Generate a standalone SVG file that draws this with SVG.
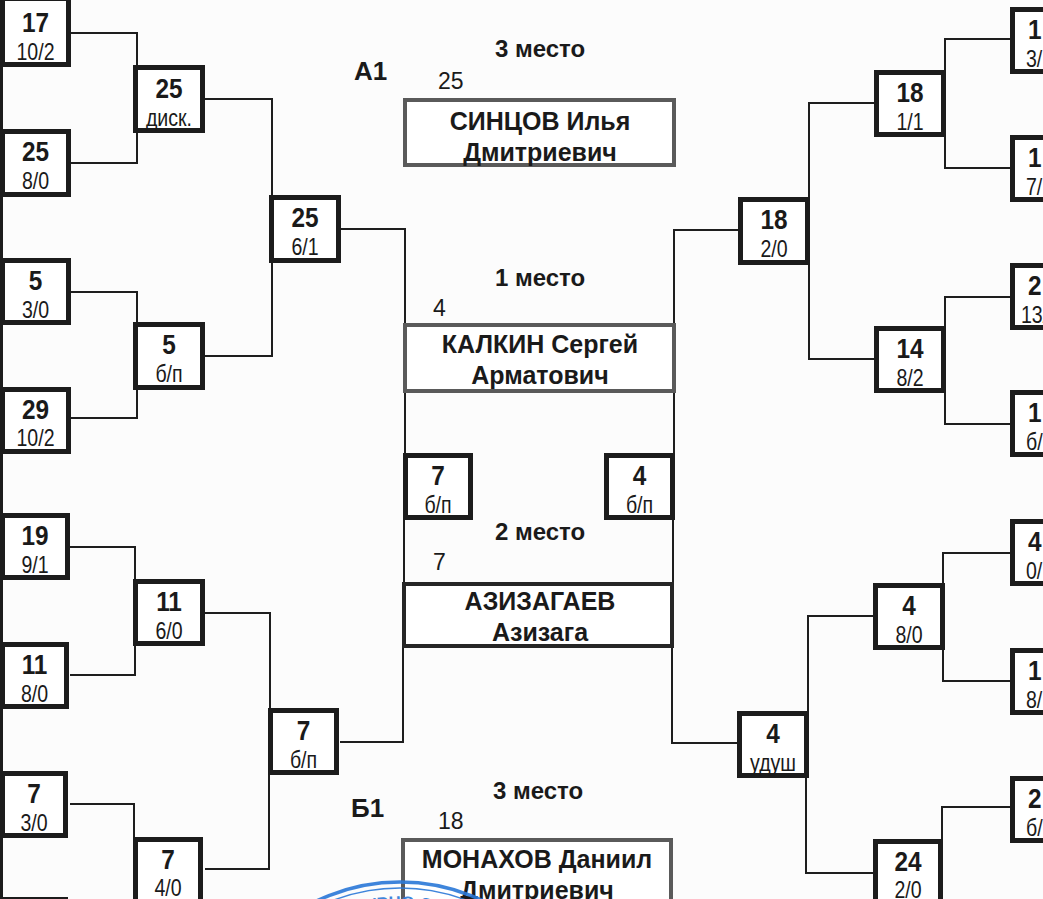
<svg xmlns="http://www.w3.org/2000/svg" width="1043" height="899" viewBox="0 0 1043 899">
<style>
.bg{fill:#fcfcfc}
.box{fill:#ffffff;stroke:#1c1c1c;stroke-width:5}
.nbox{fill:#ffffff;stroke:#5a5a5a;stroke-width:4}
.nbox2{fill:#ffffff;stroke:#262626;stroke-width:4}
.num{font-family:"Liberation Sans",Arial,sans-serif;font-weight:bold;font-size:28px;fill:#1a1a1a;text-anchor:middle}
.sub{font-family:"Liberation Sans",Arial,sans-serif;font-size:23px;fill:#1a1a1a;text-anchor:middle}
.numL{font-family:"Liberation Sans",Arial,sans-serif;font-weight:bold;font-size:28px;fill:#1a1a1a}
.subL{font-family:"Liberation Sans",Arial,sans-serif;font-size:23px;fill:#1a1a1a}
.name{font-family:"Liberation Sans",Arial,sans-serif;font-weight:bold;font-size:25px;fill:#1a1a1a;text-anchor:middle}
.place{font-family:"Liberation Sans",Arial,sans-serif;font-weight:bold;font-size:24px;fill:#1a1a1a;text-anchor:middle}
.grp{font-family:"Liberation Sans",Arial,sans-serif;font-weight:bold;font-size:26px;fill:#1a1a1a}
.seed{font-family:"Liberation Sans",Arial,sans-serif;font-size:23px;fill:#1a1a1a}
.conn{fill:none;stroke:#1e1e1e;stroke-width:2}
.stamp{fill:none;stroke:#2a78d8}
.stxt{font-family:"Liberation Sans",Arial,sans-serif;font-weight:bold;font-size:17px;fill:#2a78d8;text-anchor:middle}
</style>
<defs>
<path id="stampArc" d="M 228,1080 A 172 172 0 0 1 572,1080"/>
</defs>
<rect class="bg" x="0" y="0" width="1043" height="899"/>
<line x1="1.5" y1="0" x2="1.5" y2="899" stroke="#1c1c1c" stroke-width="3"/>

<g id="connectors">
<polyline class="conn" points="71,33 137,33 137,65"/>
<polyline class="conn" points="71,163 137,163 137,132"/>
<polyline class="conn" points="205,99 272,99 272,195"/>
<polyline class="conn" points="71,292 137,292 137,322"/>
<polyline class="conn" points="71,418 137,418 137,389"/>
<polyline class="conn" points="205,356 272,356 272,262"/>
<polyline class="conn" points="340,229 405,229 405,325"/>
<line class="conn" x1="405" y1="392" x2="405" y2="453"/>
<polyline class="conn" points="70,547 135,547 135,579"/>
<polyline class="conn" points="70,675 135,675 135,646"/>
<polyline class="conn" points="205,613 270,613 270,708"/>
<polyline class="conn" points="70,804 134,804 134,837"/>
<polyline class="conn" points="205,869 269,869 269,775"/>
<polyline class="conn" points="340,742 403,742 403,648"/>
<line class="conn" x1="404" y1="520" x2="404" y2="582"/>
<polyline class="conn" points="738,230 674,230 674,325"/>
<line class="conn" x1="674" y1="392" x2="674" y2="453"/>
<line class="conn" x1="673" y1="520" x2="673" y2="582"/>
<polyline class="conn" points="738,743 672,743 672,648"/>
<polyline class="conn" points="809,197 809,103 874,103"/>
<polyline class="conn" points="809,264 809,359 874,359"/>
<polyline class="conn" points="945,70 945,39 1010,39"/>
<polyline class="conn" points="945,137 945,168 1010,168"/>
<polyline class="conn" points="945,326 945,297 1010,297"/>
<polyline class="conn" points="945,393 945,424 1010,424"/>
<polyline class="conn" points="808,711 808,616 874,616"/>
<polyline class="conn" points="806,778 806,873 874,873"/>
<polyline class="conn" points="943,583 943,553 1010,553"/>
<polyline class="conn" points="943,650 943,681 1010,681"/>
<polyline class="conn" points="942,839 942,807 1010,807"/>
</g>

<g id="n-L1"><rect class="box" x="2.5" y="-1.5" width="66" height="66"/><text class="num" transform="translate(35.5,32) scale(0.87,1)">17</text><text class="sub" transform="translate(35.5,60) scale(0.85,1)">10/2</text></g>
<g id="n-L2"><rect class="box" x="2.5" y="131.5" width="66" height="63"/><text class="num" transform="translate(35.5,161) scale(0.87,1)">25</text><text class="sub" transform="translate(35.5,189) scale(0.85,1)">8/0</text></g>
<g id="n-L3"><rect class="box" x="2.5" y="260.5" width="66" height="62"/><text class="num" transform="translate(35.5,290) scale(0.87,1)">5</text><text class="sub" transform="translate(35.5,318) scale(0.85,1)">3/0</text></g>
<g id="n-L4"><rect class="box" x="2.5" y="389.5" width="66" height="62"/><text class="num" transform="translate(35.5,419) scale(0.87,1)">29</text><text class="sub" transform="translate(35.5,446) scale(0.85,1)">10/2</text></g>
<g id="n-L5"><rect class="box" x="2.5" y="515.5" width="65" height="62"/><text class="num" transform="translate(35,545) scale(0.87,1)">19</text><text class="sub" transform="translate(35,573) scale(0.85,1)">9/1</text></g>
<g id="n-L6"><rect class="box" x="2.5" y="644.5" width="64" height="62"/><text class="num" transform="translate(34.5,674) scale(0.87,1)">11</text><text class="sub" transform="translate(34.5,702) scale(0.85,1)">8/0</text></g>
<g id="n-L7"><rect class="box" x="2.5" y="773.5" width="63" height="62"/><text class="num" transform="translate(34,803) scale(0.87,1)">7</text><text class="sub" transform="translate(34,831) scale(0.85,1)">3/0</text></g>
<g id="n-L8"><rect class="box" x="2.5" y="899.5" width="63" height="62"/></g>

<g id="n-M1"><rect class="box" x="135.5" y="67.5" width="67" height="63"/><text class="num" transform="translate(169,98) scale(0.87,1)">25</text><text class="sub" transform="translate(169,126) scale(0.85,1)">диск.</text></g>
<g id="n-M2"><rect class="box" x="135.5" y="324.5" width="67" height="63"/><text class="num" transform="translate(169,354) scale(0.87,1)">5</text><text class="sub" transform="translate(169,382) scale(0.85,1)">б/п</text></g>
<g id="n-M3"><rect class="box" x="135.5" y="581.5" width="67" height="62"/><text class="num" transform="translate(169,611) scale(0.87,1)">11</text><text class="sub" transform="translate(169,639) scale(0.85,1)">6/0</text></g>
<g id="n-M4"><rect class="box" x="135.5" y="839.5" width="65" height="64"/><text class="num" transform="translate(168,869) scale(0.87,1)">7</text><text class="sub" transform="translate(168,896) scale(0.85,1)">4/0</text></g>

<g id="n-R1"><rect class="box" x="271.5" y="197.5" width="67" height="63"/><text class="num" transform="translate(305,227) scale(0.87,1)">25</text><text class="sub" transform="translate(305,255) scale(0.85,1)">6/1</text></g>
<g id="n-R2"><rect class="box" x="270.5" y="710.5" width="66" height="62"/><text class="num" transform="translate(303.5,740) scale(0.87,1)">7</text><text class="sub" transform="translate(303.5,768) scale(0.85,1)">б/п</text></g>

<g id="n-F1"><rect class="box" x="405.5" y="455.5" width="65" height="62"/><text class="num" transform="translate(438,485) scale(0.87,1)">7</text><text class="sub" transform="translate(438,513) scale(0.85,1)">б/п</text></g>
<g id="n-F2"><rect class="box" x="606.5" y="455.5" width="66" height="62"/><text class="num" transform="translate(639.5,485) scale(0.87,1)">4</text><text class="sub" transform="translate(639.5,513) scale(0.85,1)">б/п</text></g>

<g id="n-S1"><rect class="box" x="740.5" y="199.5" width="67" height="63"/><text class="num" transform="translate(774,229) scale(0.87,1)">18</text><text class="sub" transform="translate(774,257) scale(0.85,1)">2/0</text></g>
<g id="n-S2"><rect class="box" x="739.5" y="713.5" width="67" height="62"/><text class="num" transform="translate(773,743) scale(0.87,1)">4</text><text class="sub" transform="translate(773,771) scale(0.85,1)">удуш</text></g>

<g id="n-Q1"><rect class="box" x="876.5" y="72.5" width="67" height="62"/><text class="num" transform="translate(910,102) scale(0.87,1)">18</text><text class="sub" transform="translate(910,130) scale(0.85,1)">1/1</text></g>
<g id="n-Q2"><rect class="box" x="876.5" y="328.5" width="67" height="62"/><text class="num" transform="translate(910,358) scale(0.87,1)">14</text><text class="sub" transform="translate(910,386) scale(0.85,1)">8/2</text></g>
<g id="n-Q3"><rect class="box" x="875.5" y="585.5" width="67" height="62"/><text class="num" transform="translate(909,615) scale(0.87,1)">4</text><text class="sub" transform="translate(909,643) scale(0.85,1)">8/0</text></g>
<g id="n-Q4"><rect class="box" x="875.5" y="841.5" width="65" height="64"/><text class="num" transform="translate(908,871) scale(0.87,1)">24</text><text class="sub" transform="translate(908,898) scale(0.85,1)">2/0</text></g>

<g id="n-E1"><rect class="box" x="1012.5" y="9.5" width="67" height="62"/><text class="numL" transform="translate(1028,39) scale(0.87,1)">1</text><text class="subL" transform="translate(1026,67) scale(0.85,1)">3/</text></g>
<g id="n-E2"><rect class="box" x="1012.5" y="137.5" width="67" height="62"/><text class="numL" transform="translate(1028,167) scale(0.87,1)">1</text><text class="subL" transform="translate(1026,195) scale(0.85,1)">7/</text></g>
<g id="n-E3"><rect class="box" x="1012.5" y="265.5" width="67" height="62"/><text class="numL" transform="translate(1028,295) scale(0.87,1)">2</text><text class="subL" transform="translate(1021,323) scale(0.85,1)">13/</text></g>
<g id="n-E4"><rect class="box" x="1012.5" y="392.5" width="67" height="62"/><text class="numL" transform="translate(1028,422) scale(0.87,1)">1</text><text class="subL" transform="translate(1026,450) scale(0.85,1)">б/</text></g>
<g id="n-E5"><rect class="box" x="1012.5" y="521.5" width="67" height="62"/><text class="numL" transform="translate(1028,551) scale(0.87,1)">4</text><text class="subL" transform="translate(1026,579) scale(0.85,1)">0/</text></g>
<g id="n-E6"><rect class="box" x="1012.5" y="650.5" width="67" height="62"/><text class="numL" transform="translate(1028,680) scale(0.87,1)">1</text><text class="subL" transform="translate(1026,708) scale(0.85,1)">8/</text></g>
<g id="n-E7"><rect class="box" x="1012.5" y="778.5" width="67" height="62"/><text class="numL" transform="translate(1028,808) scale(0.87,1)">2</text><text class="subL" transform="translate(1026,836) scale(0.85,1)">б/</text></g>

<g id="labels">
<text class="grp" x="354" y="80">А1</text>
<text class="place" x="540" y="57">3 место</text>
<text class="seed" x="438" y="89">25</text>
<text class="place" x="540" y="286">1 место</text>
<text class="seed" x="433" y="316">4</text>
<text class="place" x="540" y="540">2 место</text>
<text class="seed" x="433" y="570">7</text>
<text class="place" x="538" y="799">3 место</text>
<text class="grp" x="351" y="817">Б1</text>
<text class="seed" x="438" y="829">18</text>
</g>

<g id="p-sincov"><rect class="nbox" x="405" y="100" width="269" height="65"/><text class="name" x="540" y="130">СИНЦОВ Илья</text><text class="name" x="540" y="161">Дмитриевич</text></g>
<g id="p-kalkin"><rect class="nbox" x="405" y="325" width="269" height="66"/><text class="name" x="540" y="353">КАЛКИН Сергей</text><text class="name" x="540" y="384">Арматович</text></g>
<g id="p-azizagaev"><rect class="nbox2" x="404" y="584" width="268" height="62"/><text class="name" x="540" y="610">АЗИЗАГАЕВ</text><text class="name" x="540" y="641">Азизага</text></g>
<g id="p-monahov"><rect class="nbox" x="403" y="840" width="268" height="80"/><text class="name" x="537" y="868">МОНАХОВ Даниил</text><text class="name" x="537" y="899">Дмитриевич</text></g>

<g id="stamp" opacity="0.9">
<circle class="stamp" cx="400" cy="1075" r="193" stroke-width="3.5"/>
<circle class="stamp" cx="400" cy="1075" r="187" stroke-width="1.5"/>
<text class="stxt"><textPath href="#stampArc" startOffset="50%">ТУРНО СП</textPath></text>
</g>
</svg>
